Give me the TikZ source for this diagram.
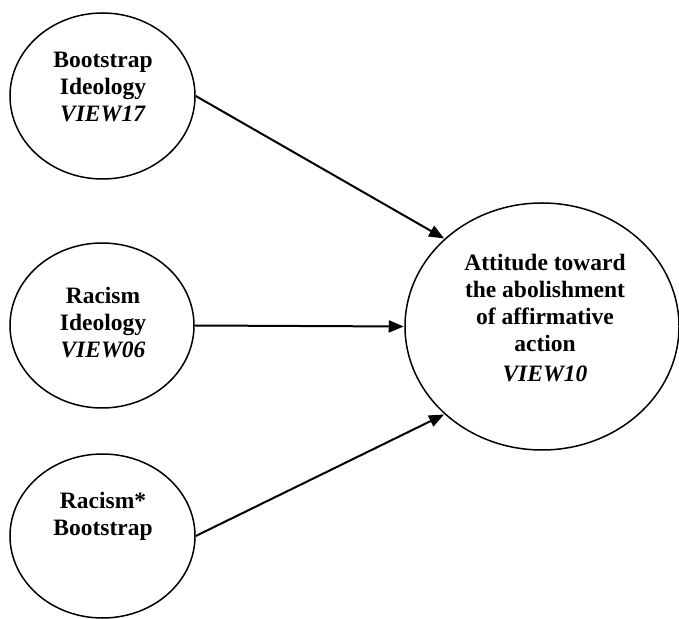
\documentclass[tikz,border=0pt]{standalone}
\usepackage{fontspec}
\setmainfont{Liberation Serif}
\usetikzlibrary{shapes.geometric,arrows.meta}
\begin{document}
\begin{tikzpicture}[x=1pt,y=1pt,
  oval/.style={ellipse,draw=black,line width=1.5pt,inner sep=0pt},
  txt/.style={align=center,font=\fontsize{23.5}{27}\selectfont\bfseries},
  conn/.style={line width=2pt,-{Triangle[length=15pt,width=12pt]},shorten >=0.5pt}]
\useasboundingbox (0,0) rectangle (679,618);
\node[oval,minimum width=185pt,minimum height=166pt] (boot) at (102.5,522) {};
\node[oval,minimum width=184pt,minimum height=165pt] (rac) at (102,292.5) {};
\node[oval,minimum width=185pt,minimum height=164pt] (inter) at (102.5,82) {};
\node[oval,minimum width=274pt,minimum height=247pt] (att) at (542,291.5) {};
\node[txt] (tboot) at (103,531) {Bootstrap\\Ideology\\\textit{VIEW17}};
\node[txt] (trac) at (103,295.5) {Racism\\Ideology\\\textit{VIEW06}};
\node[txt] (tinter) at (103,102) {Racism*\\Bootstrap};
\node[txt] (tatt) at (545,300) {Attitude toward\\the abolishment\\of affirmative\\action\\[3pt]\textit{VIEW10}};
\draw[conn] (boot.east) -- (att.138);
\draw[conn] (rac.east) -- (att.west);
\draw[conn] (inter.east) -- (att.222.5);
\end{tikzpicture}
\end{document}
